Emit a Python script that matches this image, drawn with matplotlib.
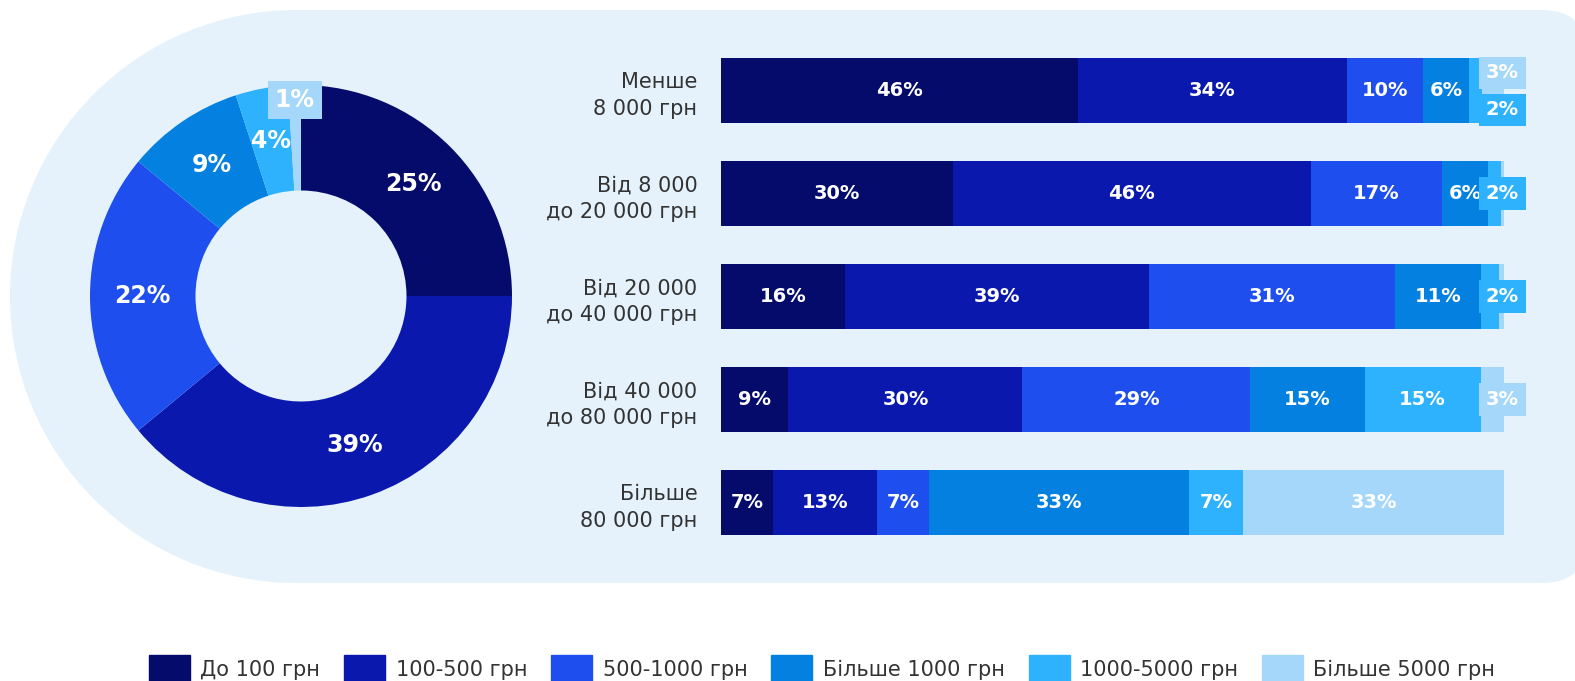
import numpy as np
import matplotlib.pyplot as plt
import matplotlib.patches as mpatches

plt.rcParams['font.family'] = ['DejaVu Sans']

# категорії суми (легенда)
groups = ['До 100 грн', '100-500 грн', '500-1000 грн', 'Більше 1000 грн',
          '1000-5000 грн', 'Більше 5000 грн']
colors = ['#050B6B', '#0A18AD', '#1F4EEE', '#0480E0', '#2EB2FE', '#A4D7F9']

# загальний розподіл (кільце)
total = [25, 39, 22, 9, 4, 1]

# розподіл за доходом, %
incomes = ['Менше\n8 000 грн', 'Від 8 000\nдо 20 000 грн', 'Від 20 000\nдо 40 000 грн',
           'Від 40 000\nдо 80 000 грн', 'Більше\n80 000 грн']
less_8k = [45.6, 34.3, 9.8, 5.8, 1.7, 2.8]
from_8k = [29.6, 45.7, 16.8, 5.9, 1.6, 0.4]
from_20k = [15.8, 38.9, 31.4, 11.0, 2.3, 0.6]
from_40k = [8.6, 29.9, 29.1, 14.6, 14.8, 3.0]
more_80k = [6.6, 13.3, 6.7, 33.2, 6.9, 33.3]
rows = [less_8k, from_8k, from_20k, from_40k, more_80k]

bg = '#E5F2FC'
W, H = 1575, 681
fig = plt.figure(figsize=(W / 100, H / 100), dpi=100)

# фон - "стадіон" (півколо зліва, заокруглені кути справа)
back = fig.add_axes([0, 0, 1, 1], zorder=0)
back.set_xlim(0, W)
back.set_ylim(H, 0)
back.axis('off')
back.add_patch(mpatches.Circle((296.5, 296.5), 286.5, fc=bg, ec='none'))
back.add_patch(mpatches.Rectangle((296.5, 10), 900, 573, fc=bg, ec='none'))
back.add_patch(mpatches.FancyBboxPatch((1100, 10), 487, 573,
                                       boxstyle='round,pad=0,rounding_size=45',
                                       fc=bg, ec='none'))

# кільцева діаграма
cx, cy, r = 301, 296, 211
ax1 = fig.add_axes([(cx - r) / W, (H - cy - r) / H, 2 * r / W, 2 * r / H], zorder=1)
wedges, _ = ax1.pie(total, colors=colors, startangle=90, counterclock=False,
                    radius=1, wedgeprops=dict(width=0.5, edgecolor='none'))
ax1.set_xlim(-1, 1)
ax1.set_ylim(-1, 1)
for w, v in zip(wedges, total):
    ang = np.deg2rad((w.theta1 + w.theta2) / 2)
    if v < 2:
        ax1.text(0.93 * np.cos(ang), 0.93 * np.sin(ang), f'{v}%', ha='center', va='center',
                 color='white', fontsize=17, fontweight='bold',
                 bbox=dict(boxstyle='square,pad=0.3', fc=w.get_facecolor(), ec='none'))
    else:
        ax1.text(0.75 * np.cos(ang), 0.75 * np.sin(ang), f'{v}%', ha='center', va='center',
                 color='white', fontsize=17, fontweight='bold')

# стовпчики
ax2 = fig.add_axes([721 / W, (H - 553.7) / H, 783 / W, 514.8 / H], zorder=2)
ax2.patch.set_alpha(0)
y = np.arange(len(rows))
left = np.zeros(len(rows))
for j in range(len(groups)):
    vals = np.array([row[j] for row in rows])
    ax2.barh(y, vals, left=left, height=0.63, color=colors[j])
    left += vals
ax2.set_xlim(0, 100)
ax2.set_ylim(4.5, -0.5)

for i, row in enumerate(rows):
    start = 0
    small = []
    for j, v in enumerate(row):
        if v >= 4:
            ax2.text(start + v / 2, i, f'{v:.0f}%', ha='center', va='center',
                     color='white', fontsize=14, fontweight='bold')
        elif v >= 1:
            small.append((j, v))
        start += v
    # дрібні частки - підписи в рамках праворуч
    offs = [0] if len(small) == 1 else [0.19, -0.17]
    for (j, v), o in zip(small, offs):
        ax2.text(99.8, i + o, f'{v:.0f}%', ha='center', va='center',
                 color='white', fontsize=14, fontweight='bold',
                 bbox=dict(boxstyle='square,pad=0.35', fc=colors[j], ec='none'))

ax2.set_yticks(y, incomes)
ax2.set_xticks([])
ax2.tick_params(axis='y', length=0, pad=17, labelsize=15, labelcolor='#333333')
for lbl in ax2.get_yticklabels():
    lbl.set_linespacing(1.42)
for s in ax2.spines.values():
    s.set_visible(False)

handles = [mpatches.Patch(color=c, label=g) for c, g in zip(colors, groups)]
fig.legend(handles=handles, loc='center', bbox_to_anchor=(0.522, 0.0176), ncol=6,
           frameon=False, fontsize=15, handlelength=1.97, handleheight=1.68,
           handletextpad=0.5, columnspacing=1.15, labelcolor='#333333')

fig.savefig('out.png', dpi=100)
